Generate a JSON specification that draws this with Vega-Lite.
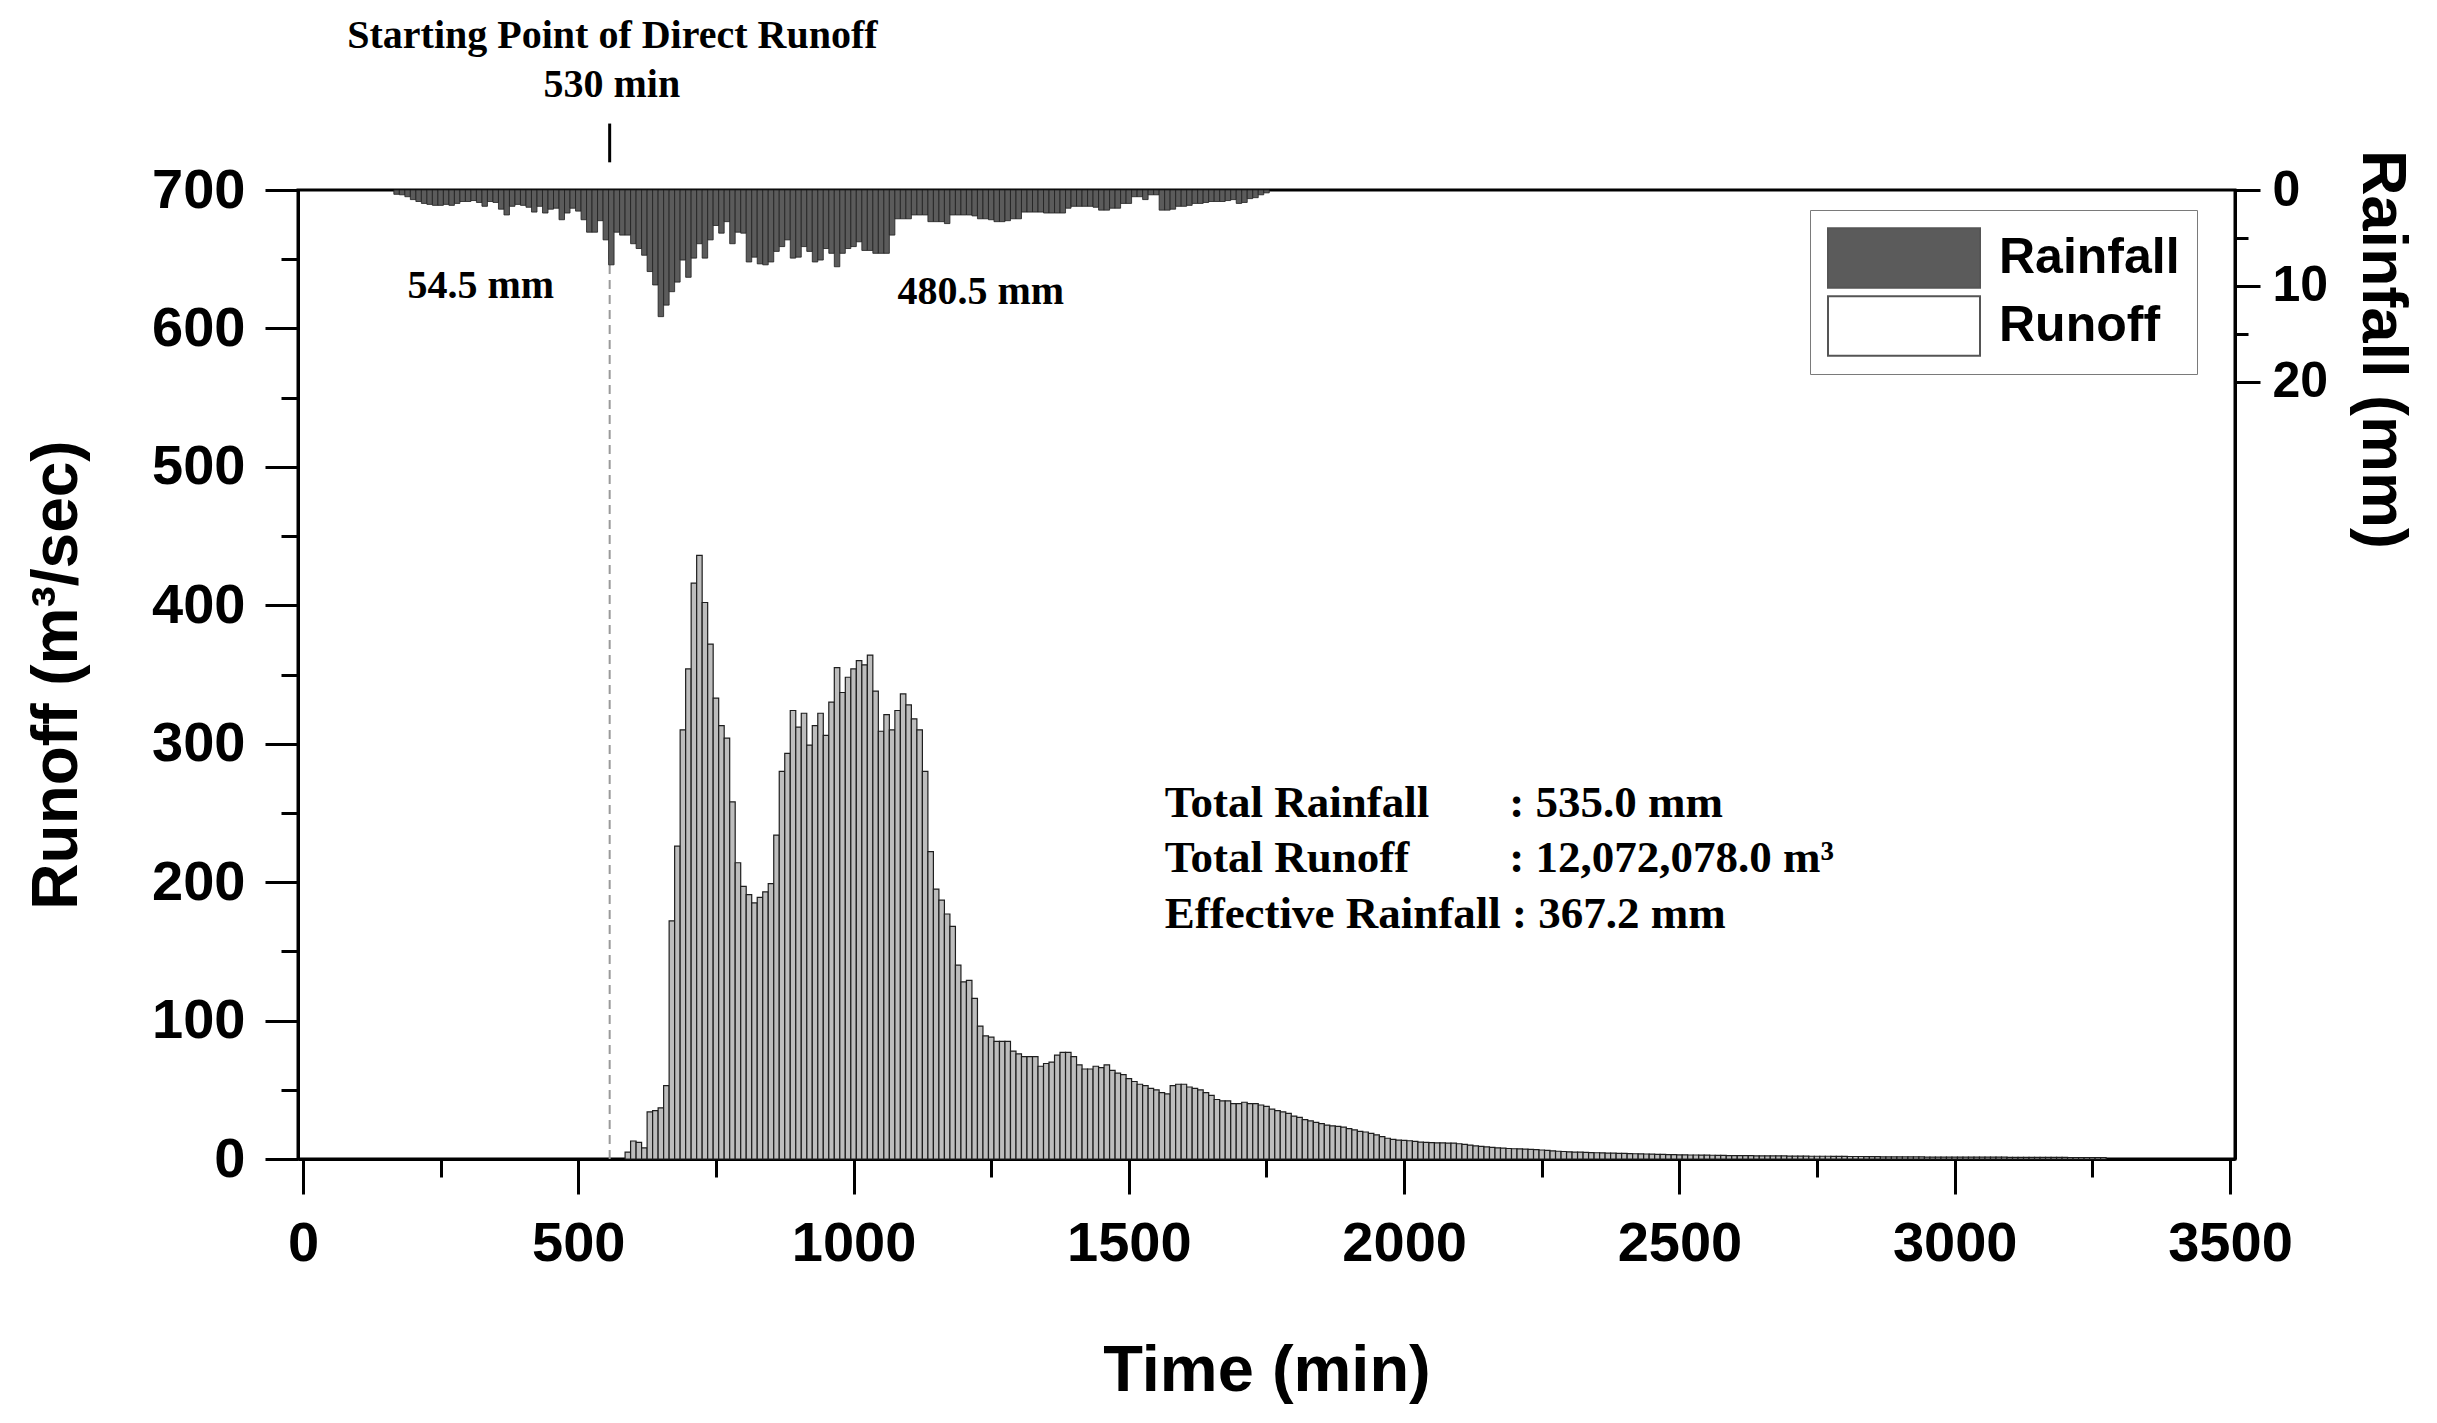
{
  "$schema": "https://vega.github.io/schema/vega-lite/v6.json",
  "width": 1937,
  "height": 969,
  "autosize": {"type": "none"},
  "padding": {"left": 298, "top": 190, "right": 202, "bottom": 264},
  "background": "white",
  "config": {
    "view": {"stroke": "black", "strokeWidth": 3},
    "axis": {"grid": false, "domainColor": "black", "domainWidth": 3, "tickColor": "black", "tickWidth": 3, "labelColor": "black", "titleColor": "black"}
  },
  "datasets": {
    "runoff": [
      {"t":590,"q":5},{"t":600,"q":13},{"t":610,"q":12},{"t":620,"q":8},{"t":630,"q":34},{"t":640,"q":35},{"t":650,"q":37},{"t":660,"q":53},
      {"t":670,"q":172},{"t":680,"q":226},{"t":690,"q":310},{"t":700,"q":354},{"t":710,"q":416},{"t":720,"q":436},{"t":730,"q":402},{"t":740,"q":372},
      {"t":750,"q":333},{"t":760,"q":313},{"t":770,"q":304},{"t":780,"q":258},{"t":790,"q":214},{"t":800,"q":197},{"t":810,"q":191},{"t":820,"q":185},
      {"t":830,"q":189},{"t":840,"q":193},{"t":850,"q":199},{"t":860,"q":234},{"t":870,"q":280},{"t":880,"q":293},{"t":890,"q":324},{"t":900,"q":312},
      {"t":910,"q":322},{"t":920,"q":299},{"t":930,"q":313},{"t":940,"q":322},{"t":950,"q":306},{"t":960,"q":330},{"t":970,"q":355},{"t":980,"q":337},
      {"t":990,"q":348},{"t":1000,"q":354},{"t":1010,"q":360},{"t":1020,"q":357},{"t":1030,"q":364},{"t":1040,"q":338},{"t":1050,"q":309},{"t":1060,"q":321},
      {"t":1070,"q":310},{"t":1080,"q":324},{"t":1090,"q":336},{"t":1100,"q":328},{"t":1110,"q":318},{"t":1120,"q":310},{"t":1130,"q":280},{"t":1140,"q":222},
      {"t":1150,"q":195},{"t":1160,"q":187},{"t":1170,"q":177},{"t":1180,"q":168},{"t":1190,"q":140},{"t":1200,"q":128},{"t":1210,"q":129},{"t":1220,"q":116},
      {"t":1230,"q":96},{"t":1240,"q":89},{"t":1250,"q":88},{"t":1260,"q":85},{"t":1270,"q":85},{"t":1280,"q":85},{"t":1290,"q":78},{"t":1300,"q":76},
      {"t":1310,"q":74},{"t":1320,"q":74},{"t":1330,"q":74},{"t":1340,"q":67},{"t":1350,"q":69},{"t":1360,"q":70},{"t":1370,"q":75},{"t":1380,"q":77},
      {"t":1390,"q":77},{"t":1400,"q":74},{"t":1410,"q":68},{"t":1420,"q":65},{"t":1430,"q":65},{"t":1440,"q":67},{"t":1450,"q":66},{"t":1460,"q":68},
      {"t":1470,"q":64},{"t":1480,"q":62},{"t":1490,"q":61},{"t":1500,"q":58},{"t":1510,"q":56},{"t":1520,"q":54},{"t":1530,"q":53},{"t":1540,"q":51},
      {"t":1550,"q":50},{"t":1560,"q":48},{"t":1570,"q":47},{"t":1580,"q":53},{"t":1590,"q":54},{"t":1600,"q":54},{"t":1610,"q":52},{"t":1620,"q":51},
      {"t":1630,"q":50},{"t":1640,"q":48},{"t":1650,"q":46},{"t":1660,"q":43},{"t":1670,"q":42},{"t":1680,"q":42},{"t":1690,"q":40},{"t":1700,"q":40},
      {"t":1710,"q":41},{"t":1720,"q":40},{"t":1730,"q":40},{"t":1740,"q":39},{"t":1750,"q":38},{"t":1760,"q":36},{"t":1770,"q":35},{"t":1780,"q":34},
      {"t":1790,"q":33},{"t":1800,"q":31},{"t":1810,"q":30},{"t":1820,"q":28.5},{"t":1830,"q":27.5},{"t":1840,"q":26.5},{"t":1850,"q":25.5},{"t":1860,"q":24.5},
      {"t":1870,"q":24},{"t":1880,"q":23.5},{"t":1890,"q":23},{"t":1900,"q":22},{"t":1910,"q":21},{"t":1920,"q":20},{"t":1930,"q":19.5},{"t":1940,"q":18.5},
      {"t":1950,"q":17.5},{"t":1960,"q":16.2},{"t":1970,"q":15},{"t":1980,"q":14.2},{"t":1990,"q":13.6},{"t":2000,"q":13.5},{"t":2010,"q":13.2},{"t":2020,"q":12.8},
      {"t":2030,"q":12.2},{"t":2040,"q":12},{"t":2050,"q":11.8},{"t":2060,"q":11.6},{"t":2070,"q":11.6},{"t":2080,"q":11.5},{"t":2090,"q":11.4},{"t":2100,"q":11},
      {"t":2110,"q":10.6},{"t":2120,"q":10},{"t":2130,"q":9.5},{"t":2140,"q":9.1},{"t":2150,"q":8.7},{"t":2160,"q":8.4},{"t":2170,"q":8.1},{"t":2180,"q":7.8},
      {"t":2190,"q":7.6},{"t":2200,"q":7.4},{"t":2210,"q":7.3},{"t":2220,"q":7.1},{"t":2230,"q":7},{"t":2240,"q":6.8},{"t":2250,"q":6.5},{"t":2260,"q":6.2},
      {"t":2270,"q":5.9},{"t":2280,"q":5.6},{"t":2290,"q":5.4},{"t":2300,"q":5.2},{"t":2310,"q":5},{"t":2320,"q":4.9},{"t":2330,"q":4.8},{"t":2340,"q":4.6},
      {"t":2350,"q":4.5},{"t":2360,"q":4.4},{"t":2370,"q":4.3},{"t":2380,"q":4.2},{"t":2390,"q":4.1},{"t":2400,"q":4},{"t":2410,"q":3.9},{"t":2420,"q":3.8},
      {"t":2430,"q":3.7},{"t":2440,"q":3.6},{"t":2450,"q":3.5},{"t":2460,"q":3.4},{"t":2470,"q":3.3},{"t":2480,"q":3.2},{"t":2490,"q":3.1},{"t":2500,"q":3},
      {"t":2510,"q":3},{"t":2520,"q":2.9},{"t":2530,"q":2.9},{"t":2540,"q":2.8},{"t":2550,"q":2.8},{"t":2560,"q":2.7},{"t":2570,"q":2.6},{"t":2580,"q":2.6},
      {"t":2590,"q":2.5},{"t":2600,"q":2.5},{"t":2610,"q":2.4},{"t":2620,"q":2.4},{"t":2630,"q":2.4},{"t":2640,"q":2.3},{"t":2650,"q":2.3},{"t":2660,"q":2.3},
      {"t":2670,"q":2.2},{"t":2680,"q":2.2},{"t":2690,"q":2.2},{"t":2700,"q":2.1},{"t":2710,"q":2.1},{"t":2720,"q":2.1},{"t":2730,"q":2.1},{"t":2740,"q":2},
      {"t":2750,"q":2},{"t":2760,"q":2},{"t":2770,"q":2},{"t":2780,"q":1.9},{"t":2790,"q":1.9},{"t":2800,"q":1.9},{"t":2810,"q":1.8},{"t":2820,"q":1.8},
      {"t":2830,"q":1.8},{"t":2840,"q":1.7},{"t":2850,"q":1.7},{"t":2860,"q":1.7},{"t":2870,"q":1.6},{"t":2880,"q":1.6},{"t":2890,"q":1.6},{"t":2900,"q":1.5},
      {"t":2910,"q":1.5},{"t":2920,"q":1.5},{"t":2930,"q":1.5},{"t":2940,"q":1.5},{"t":2950,"q":1.4},{"t":2960,"q":1.4},{"t":2970,"q":1.4},{"t":2980,"q":1.4},
      {"t":2990,"q":1.4},{"t":3000,"q":1.4},{"t":3010,"q":1.3},{"t":3020,"q":1.3},{"t":3030,"q":1.3},{"t":3040,"q":1.3},{"t":3050,"q":1.3},{"t":3060,"q":1.3},
      {"t":3070,"q":1.3},{"t":3080,"q":1.3},{"t":3090,"q":1.3},{"t":3100,"q":1.2},{"t":3110,"q":1.2},{"t":3120,"q":1.2},{"t":3130,"q":1.2},{"t":3140,"q":1.2},
      {"t":3150,"q":1.2},{"t":3160,"q":1.2},{"t":3170,"q":1.2},{"t":3180,"q":1.2},{"t":3190,"q":1.2},{"t":3200,"q":1.2},{"t":3210,"q":1.1},{"t":3220,"q":1.1},
      {"t":3230,"q":1.1},{"t":3240,"q":1.1},{"t":3250,"q":1.1},{"t":3260,"q":1.1},{"t":3270,"q":1.1}
    ],
    "rain": [
      {"t":170,"p":0.45},{"t":180,"p":0.5},{"t":190,"p":0.7},{"t":200,"p":1.0},{"t":210,"p":1.2},{"t":220,"p":1.4},{"t":230,"p":1.5},{"t":240,"p":1.6},
      {"t":250,"p":1.6},{"t":260,"p":1.5},{"t":270,"p":1.6},{"t":280,"p":1.4},{"t":290,"p":1.2},{"t":300,"p":1.2},{"t":310,"p":1.1},{"t":320,"p":1.3},
      {"t":330,"p":1.7},{"t":340,"p":1.2},{"t":350,"p":1.3},{"t":360,"p":2.0},{"t":370,"p":2.6},{"t":380,"p":1.7},{"t":390,"p":1.5},{"t":400,"p":1.6},
      {"t":410,"p":1.8},{"t":420,"p":2.3},{"t":430,"p":1.7},{"t":440,"p":2.4},{"t":450,"p":2.0},{"t":460,"p":1.9},{"t":470,"p":3.1},{"t":480,"p":2.4},
      {"t":490,"p":1.9},{"t":500,"p":2.2},{"t":510,"p":3.1},{"t":520,"p":4.4},{"t":530,"p":4.4},{"t":540,"p":3.2},{"t":550,"p":5.2},{"t":560,"p":7.8},
      {"t":570,"p":4.4},{"t":580,"p":4.7},{"t":590,"p":4.7},{"t":600,"p":5.6},{"t":610,"p":6.1},{"t":620,"p":6.8},{"t":630,"p":8.5},{"t":640,"p":9.9},
      {"t":650,"p":13.2},{"t":660,"p":12.0},{"t":670,"p":10.6},{"t":680,"p":9.6},{"t":690,"p":7.3},{"t":700,"p":9.1},{"t":710,"p":7.1},{"t":720,"p":5.6},
      {"t":730,"p":7.1},{"t":740,"p":5.2},{"t":750,"p":3.7},{"t":760,"p":4.5},{"t":770,"p":3.3},{"t":780,"p":5.6},{"t":790,"p":4.4},{"t":800,"p":4.5},
      {"t":810,"p":7.5},{"t":820,"p":7.0},{"t":830,"p":7.7},{"t":840,"p":7.8},{"t":850,"p":7.5},{"t":860,"p":6.4},{"t":870,"p":5.9},{"t":880,"p":5.2},
      {"t":890,"p":7.1},{"t":900,"p":7.0},{"t":910,"p":5.9},{"t":920,"p":6.4},{"t":930,"p":7.5},{"t":940,"p":7.3},{"t":950,"p":6.1},{"t":960,"p":6.6},
      {"t":970,"p":8.0},{"t":980,"p":6.6},{"t":990,"p":6.1},{"t":1000,"p":5.9},{"t":1010,"p":5.4},{"t":1020,"p":6.3},{"t":1030,"p":6.3},{"t":1040,"p":6.6},
      {"t":1050,"p":6.6},{"t":1060,"p":6.6},{"t":1070,"p":4.7},{"t":1080,"p":3.0},{"t":1090,"p":3.0},{"t":1100,"p":3.0},{"t":1110,"p":2.6},{"t":1120,"p":2.6},
      {"t":1130,"p":2.6},{"t":1140,"p":3.3},{"t":1150,"p":3.3},{"t":1160,"p":3.3},{"t":1170,"p":3.5},{"t":1180,"p":2.6},{"t":1190,"p":2.6},{"t":1200,"p":2.6},
      {"t":1210,"p":2.6},{"t":1220,"p":2.7},{"t":1230,"p":3.0},{"t":1240,"p":3.0},{"t":1250,"p":3.1},{"t":1260,"p":3.3},{"t":1270,"p":3.3},{"t":1280,"p":3.2},
      {"t":1290,"p":3.0},{"t":1300,"p":3.0},{"t":1310,"p":2.3},{"t":1320,"p":2.3},{"t":1330,"p":2.3},{"t":1340,"p":2.3},{"t":1350,"p":2.4},{"t":1360,"p":2.4},
      {"t":1370,"p":2.4},{"t":1380,"p":2.4},{"t":1390,"p":1.9},{"t":1400,"p":1.7},{"t":1410,"p":1.7},{"t":1420,"p":1.7},{"t":1430,"p":1.7},{"t":1440,"p":1.8},
      {"t":1450,"p":2.1},{"t":1460,"p":2.1},{"t":1470,"p":1.9},{"t":1480,"p":1.9},{"t":1490,"p":1.4},{"t":1500,"p":1.4},{"t":1510,"p":0.7},{"t":1520,"p":0.7},
      {"t":1530,"p":1.0},{"t":1540,"p":0.5},{"t":1550,"p":0.5},{"t":1560,"p":2.1},{"t":1570,"p":2.1},{"t":1580,"p":2.0},{"t":1590,"p":1.7},{"t":1600,"p":1.7},
      {"t":1610,"p":1.6},{"t":1620,"p":1.4},{"t":1630,"p":1.4},{"t":1640,"p":1.3},{"t":1650,"p":1.2},{"t":1660,"p":1.2},{"t":1670,"p":1.2},{"t":1680,"p":1.1},
      {"t":1690,"p":1.0},{"t":1700,"p":1.4},{"t":1710,"p":1.3},{"t":1720,"p":0.9},{"t":1730,"p":0.8},{"t":1740,"p":0.5},{"t":1750,"p":0.3}
    ]
  },
  "layer": [
    {
      "data": {"name": "runoff"},
      "mark": {"type": "bar", "width": 5.5, "fill": "#bdbdbd", "stroke": "#1e1e1e", "strokeWidth": 1.2},
      "encoding": {
        "x": {
          "field": "t", "type": "quantitative",
          "scale": {"domain": [0, 3500], "nice": false},
          "axis": {
            "orient": "bottom", "values": [0, 500, 1000, 1500, 2000, 2500, 3000, 3500], "format": "d",
            "title": "Time (min)", "tickSize": 35, "labelFlush": false, "labelOverlap": false,
            "labelFont": "Liberation Sans", "labelFontWeight": "bold", "labelFontSize": 56, "labelPadding": 22,
            "titleFont": "Liberation Sans", "titleFontWeight": "bold", "titleFontSize": 65, "titlePadding": 68
          }
        },
        "y": {
          "field": "q", "type": "quantitative",
          "scale": {"domain": [0, 700], "nice": false},
          "axis": {
            "orient": "left", "values": [0, 100, 200, 300, 400, 500, 600, 700], "format": "d",
            "title": "Runoff (m³/sec)", "tickSize": 33, "labelFlush": false, "labelOverlap": false,
            "labelFont": "Liberation Sans", "labelFontWeight": "bold", "labelFontSize": 56, "labelPadding": 20,
            "titleFont": "Liberation Sans", "titleFontWeight": "bold", "titleFontSize": 64, "titlePadding": 62
          }
        }
      }
    },
    {
      "data": {"values": [{}]},
      "mark": {"type": "rule", "stroke": "#9a9a9a", "strokeWidth": 2, "strokeDash": [9, 6]},
      "encoding": {
        "x": {
          "datum": 557, "type": "quantitative",
          "scale": {"domain": [0, 3500], "nice": false},
          "axis": {"orient": "bottom", "values": [250, 750, 1250, 1750, 2250, 2750, 3250], "labels": false, "domain": false, "tickSize": 18, "title": null}
        },
        "y": {
          "datum": 0, "type": "quantitative",
          "scale": {"domain": [0, 700], "nice": false},
          "axis": {"orient": "left", "values": [50, 150, 250, 350, 450, 550, 650], "labels": false, "domain": false, "tickSize": 17, "title": null}
        },
        "y2": {"datum": 700}
      }
    },
    {
      "data": {"name": "rain"},
      "mark": {"type": "bar", "width": 5.5, "stroke": "#1e1e1e", "strokeWidth": 0.8},
      "encoding": {
        "x": {"field": "t", "type": "quantitative", "scale": {"domain": [0, 3500], "nice": false}, "axis": null},
        "y": {
          "field": "p", "type": "quantitative",
          "scale": {"domain": [0, 101], "reverse": true, "nice": false},
          "axis": {
            "orient": "right", "values": [0, 10, 20], "tickSize": 25, "labelFlush": false, "labelOverlap": false,
            "labelFont": "Liberation Sans", "labelFontWeight": "bold", "labelFontSize": 50, "labelPadding": 12,
            "title": "Rainfall (mm)", "titleFont": "Liberation Sans", "titleFontWeight": "bold", "titleFontSize": 63,
            "titleAngle": 90, "titleY": 159, "titlePadding": 22
          }
        },
        "fill": {
          "datum": "Rainfall", "type": "nominal",
          "scale": {"domain": ["Rainfall", "Runoff"], "range": ["#5b5b5b", "#ffffff"]},
          "legend": {
            "orient": "none", "legendX": 1512, "legendY": 20, "title": null,
            "symbolType": "M-1,-0.39H1V0.39H-1Z", "symbolSize": 23104, "symbolStrokeColor": "#555555", "symbolStrokeWidth": 2,
            "clipHeight": 62, "rowPadding": 6, "padding": 17, "labelLimit": 400,
            "labelFont": "Liberation Sans", "labelFontWeight": "bold", "labelFontSize": 50, "labelOffset": 18, "labelColor": "black",
            "strokeColor": "#7a7a7a", "fillColor": "white"
          }
        }
      }
    },
    {
      "data": {"values": [{}]},
      "mark": {"type": "rule", "opacity": 0},
      "encoding": {
        "y": {
          "datum": 0, "type": "quantitative",
          "scale": {"domain": [0, 101], "reverse": true, "nice": false},
          "axis": {"orient": "right", "values": [5, 15], "labels": false, "domain": false, "tickSize": 13, "title": null}
        }
      }
    },
    {
      "data": {"values": [{}]},
      "mark": {"type": "rule", "stroke": "black", "strokeWidth": 3},
      "encoding": {
        "x": {"datum": 557, "type": "quantitative", "axis": null},
        "y": {"datum": 720, "type": "quantitative", "scale": {"domain": [0, 700], "nice": false}, "axis": null},
        "y2": {"datum": 748}
      }
    },
    {
      "data": {"values": [{}]},
      "mark": {"type": "text", "text": "Starting Point of Direct Runoff", "font": "Liberation Serif", "fontWeight": "bold", "fontSize": 40, "align": "center", "baseline": "middle"},
      "encoding": {
        "x": {"datum": 562, "type": "quantitative", "axis": null},
        "y": {"datum": 811, "type": "quantitative", "scale": {"domain": [0, 700], "nice": false}, "axis": null}
      }
    },
    {
      "data": {"values": [{}]},
      "mark": {"type": "text", "text": "530 min", "font": "Liberation Serif", "fontWeight": "bold", "fontSize": 40, "align": "center", "baseline": "middle"},
      "encoding": {
        "x": {"datum": 561, "type": "quantitative", "axis": null},
        "y": {"datum": 776, "type": "quantitative", "scale": {"domain": [0, 700], "nice": false}, "axis": null}
      }
    },
    {
      "data": {"values": [{}]},
      "mark": {"type": "text", "text": "54.5 mm", "font": "Liberation Serif", "fontWeight": "bold", "fontSize": 40, "align": "center", "baseline": "middle"},
      "encoding": {
        "x": {"datum": 323, "type": "quantitative", "axis": null},
        "y": {"datum": 631, "type": "quantitative", "scale": {"domain": [0, 700], "nice": false}, "axis": null}
      }
    },
    {
      "data": {"values": [{}]},
      "mark": {"type": "text", "text": "480.5 mm", "font": "Liberation Serif", "fontWeight": "bold", "fontSize": 40, "align": "center", "baseline": "middle"},
      "encoding": {
        "x": {"datum": 1231, "type": "quantitative", "axis": null},
        "y": {"datum": 626, "type": "quantitative", "scale": {"domain": [0, 700], "nice": false}, "axis": null}
      }
    },
    {
      "data": {"values": [{}]},
      "mark": {"type": "text", "text": "Total Rainfall", "font": "Liberation Serif", "fontWeight": "bold", "fontSize": 45, "align": "left", "baseline": "middle"},
      "encoding": {
        "x": {"datum": 1565, "type": "quantitative", "axis": null},
        "y": {"datum": 257, "type": "quantitative", "scale": {"domain": [0, 700], "nice": false}, "axis": null}
      }
    },
    {
      "data": {"values": [{}]},
      "mark": {"type": "text", "text": ": 535.0 mm", "font": "Liberation Serif", "fontWeight": "bold", "fontSize": 45, "align": "left", "baseline": "middle"},
      "encoding": {
        "x": {"datum": 2191, "type": "quantitative", "axis": null},
        "y": {"datum": 257, "type": "quantitative", "scale": {"domain": [0, 700], "nice": false}, "axis": null}
      }
    },
    {
      "data": {"values": [{}]},
      "mark": {"type": "text", "text": "Total Runoff", "font": "Liberation Serif", "fontWeight": "bold", "fontSize": 45, "align": "left", "baseline": "middle"},
      "encoding": {
        "x": {"datum": 1565, "type": "quantitative", "axis": null},
        "y": {"datum": 217.6, "type": "quantitative", "scale": {"domain": [0, 700], "nice": false}, "axis": null}
      }
    },
    {
      "data": {"values": [{}]},
      "mark": {"type": "text", "text": ": 12,072,078.0 m³", "font": "Liberation Serif", "fontWeight": "bold", "fontSize": 45, "align": "left", "baseline": "middle"},
      "encoding": {
        "x": {"datum": 2191, "type": "quantitative", "axis": null},
        "y": {"datum": 217.6, "type": "quantitative", "scale": {"domain": [0, 700], "nice": false}, "axis": null}
      }
    },
    {
      "data": {"values": [{}]},
      "mark": {"type": "text", "text": "Effective Rainfall : 367.2 mm", "font": "Liberation Serif", "fontWeight": "bold", "fontSize": 45, "align": "left", "baseline": "middle"},
      "encoding": {
        "x": {"datum": 1565, "type": "quantitative", "axis": null},
        "y": {"datum": 177, "type": "quantitative", "scale": {"domain": [0, 700], "nice": false}, "axis": null}
      }
    }
  ],
  "resolve": {"scale": {"y": "independent"}, "axis": {"x": "independent", "y": "independent"}}
}
